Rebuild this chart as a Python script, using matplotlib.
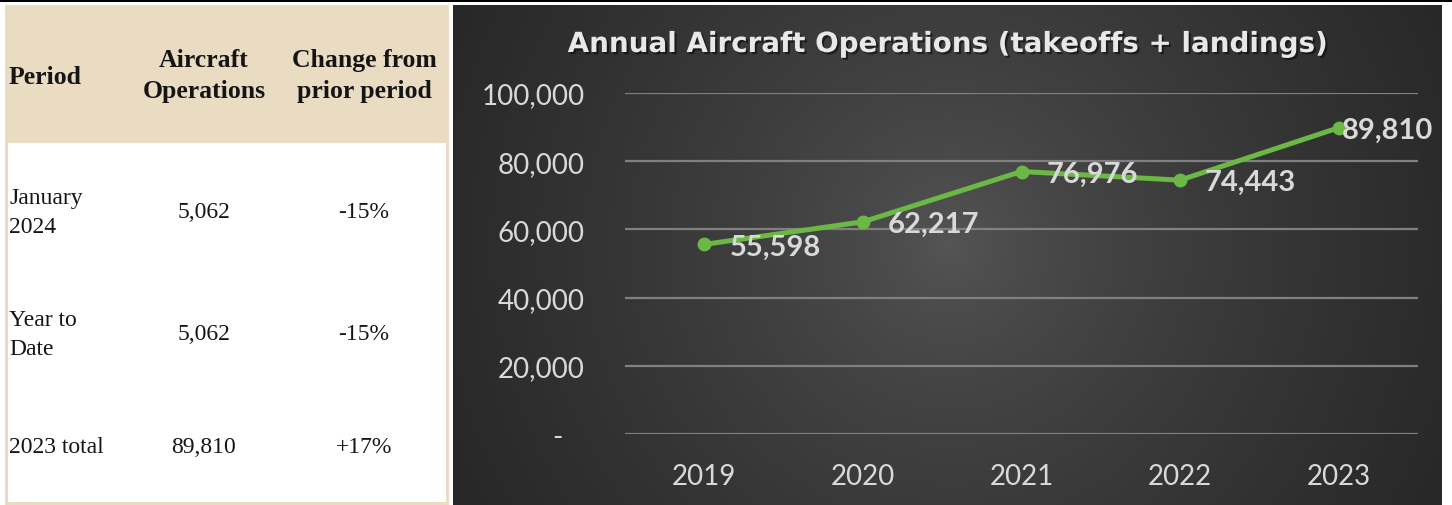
import numpy as np
import matplotlib
matplotlib.use("Agg")
import matplotlib.pyplot as plt
from matplotlib.patches import Rectangle
import matplotlib.patheffects as pe

# table data
headers = ["Period", "Aircraft\nOperations", "Change from\nprior period"]
periods = ["January\n2024", "Year to\nDate", "2023 total"]
operations = ["5,062", "5,062", "89,810"]
changes = ["-15%", "-15%", "+17%"]

# chart data
years = ["2019", "2020", "2021", "2022", "2023"]
annual_ops = [55598, 62217, 76976, 74443, 89810]
y_ticks = [0, 20000, 40000, 60000, 80000, 100000]

W, H = 1452, 506
fig = plt.figure(figsize=(W / 100, H / 100), dpi=100)
fig.patch.set_facecolor("white")

# page axes in pixel coordinates for the table and frames
page = fig.add_axes([0, 0, 1, 1])
page.set_xlim(0, W)
page.set_ylim(H, 0)
page.axis("off")

beige = "#e9dcc3"
page.add_patch(Rectangle((0, 0), W, 3, color="black", lw=0))
page.add_patch(Rectangle((5, 6), 444, 138, color=beige, lw=0))
page.add_patch(Rectangle((5, 144), 3, 362, color=beige, lw=0))
page.add_patch(Rectangle((446, 144), 3, 362, color=beige, lw=0))
page.add_patch(Rectangle((5, 503), 444, 3, color=beige, lw=0))
page.add_patch(Rectangle((453, 6), 2, 500, color="#262626", lw=0))

serif = "Liberation Serif"
ink = "#151515"
col_x = [9, 204, 364]
page.text(col_x[0], 77, headers[0], ha="left", va="center", fontsize=18.5,
          fontweight="bold", family=serif, color=ink)
for j in (1, 2):
    page.text(col_x[j], 76, headers[j], ha="center", va="center", fontsize=18.5,
              fontweight="bold", family=serif, color=ink, linespacing=1.45)

row_y = [213, 335, 448]
for i in range(len(periods)):
    page.text(col_x[0], row_y[i], periods[i], ha="left", va="center", fontsize=17,
              family=serif, color=ink, linespacing=1.55)
    page.text(col_x[1], row_y[i], operations[i], ha="center", va="center",
              fontsize=17, family=serif, color=ink)
    page.text(col_x[2], row_y[i], changes[i], ha="center", va="center",
              fontsize=17, family=serif, color=ink)

# chart background with radial shading
cx0, cy0, cw, ch = 455, 6, 987, 500
bg = fig.add_axes([cx0 / W, 1 - (cy0 + ch) / H, cw / W, ch / H])
gx, gy = np.meshgrid(np.arange(cw), np.arange(ch))
d = np.hypot(gx - 495, gy - 240)
shade = np.clip(0x56 - 0.56 * d ** 0.7, 0x22, 0x60) / 255
bg.imshow(np.dstack([shade, shade, shade]), aspect="auto", interpolation="bilinear")
bg.axis("off")

# line chart
ax = fig.add_axes([625 / W, 1 - 435 / H, 793 / W, 341 / H])
ax.patch.set_alpha(0)
x = np.arange(len(years))
ax.plot(x, annual_ops, color="#6cb844", lw=3.6, marker="o", markersize=9,
        solid_capstyle="round", zorder=3)
ax.set_xlim(-0.5, len(years) - 0.5)
ax.set_ylim(0, 100000)
ax.set_yticks(y_ticks)
ax.set_yticklabels([f"{v:,.0f}" if v else "-   " for v in y_ticks])
ax.set_xticks(x)
ax.set_xticklabels(years)
ax.grid(axis="y", color="#808080", lw=1.6)
ax.set_axisbelow(True)
for s in ax.spines.values():
    s.set_visible(False)
ax.tick_params(axis="y", length=0, pad=29, labelsize=20, labelcolor="#d9d9d9")
ax.tick_params(axis="x", length=0, pad=21, labelsize=20, labelcolor="#d9d9d9")
for lab in ax.get_xticklabels() + ax.get_yticklabels():
    lab.set_family("Lato")

for i, v in enumerate(annual_ops):
    dx = 3 if i == len(annual_ops) - 1 else 25
    ax.annotate(f"{v:,}", (x[i], v), xytext=(dx, -2), textcoords="offset pixels",
                ha="left", va="center", fontsize=21, fontweight="bold",
                family="Lato", color="#d9d9d9", zorder=4)

title = fig.text(948 / W, 1 - 45 / H, "Annual Aircraft Operations (takeoffs + landings)",
                 ha="center", va="center", fontsize=20, fontweight="bold",
                 family="DejaVu Sans", color="#e8e8e8")
title.set_path_effects([pe.withSimplePatchShadow(offset=(1.5, -1.5), shadow_rgbFace="black", alpha=0.5)])

fig.savefig("out.png", dpi=100, facecolor=fig.get_facecolor())
